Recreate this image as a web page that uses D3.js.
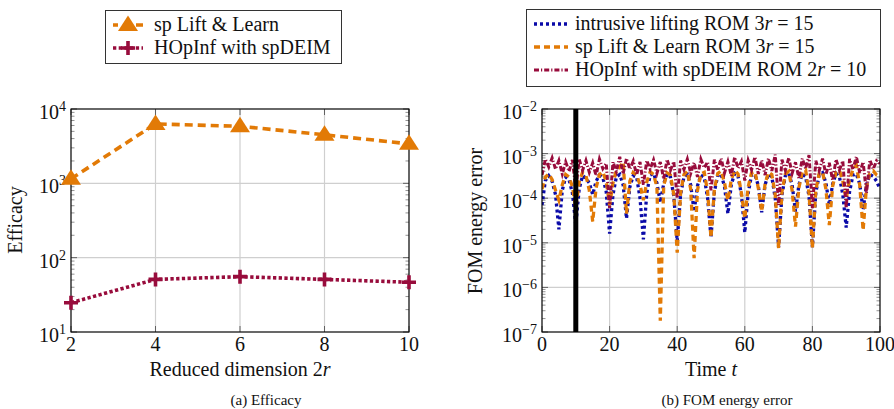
<!DOCTYPE html>
<html>
<head>
<meta charset="utf-8">
<script src="https://cdn.jsdelivr.net/npm/d3@7"></script>
<style>
  html, body { margin: 0; padding: 0; background: #fff; }
  svg { display: block; }
</style>
</head>
<body>
<svg id="fig" width="894" height="409"></svg>
<script>
// ---- (a) efficacy vs reduced dimension ----
const dims = [2, 4, 6, 8, 10];
const efficacyLiftLearn = [1150, 6300, 5850, 4500, 3400];
const efficacyHOpInf = [24.8, 51, 55.5, 51, 46.7];
const efficacyTicks = [1e1, 1e2, 1e3, 1e4];

// ---- (b) FOM energy error over time ----
const times = d3.range(0, 101, 1);
const errIntrusive = [
  7e-5, 2.5e-4, 3.2e-4, 2.4e-4, 1.2e-4, 2e-5, 1.5e-4, 3e-4, 2.6e-4, 1.3e-4,
  2.5e-5, 1.6e-4, 3.2e-4, 2.8e-4, 2.2e-4, 1.2e-4, 2.4e-4, 3.3e-4, 2.9e-4, 1.4e-4,
  1.6e-5, 1.2e-4, 3e-4, 3.4e-4, 2e-4, 3.5e-5, 1.8e-4, 3.2e-4, 3e-4, 1e-4,
  1.2e-5, 1.3e-4, 3.3e-4, 3.6e-4, 2.2e-4, 8e-5, 2.1e-4, 3.5e-4, 3e-4, 1.1e-4,
  1.1e-5, 1.2e-4, 3e-4, 3.4e-4, 2e-4, 5e-5, 1.9e-4, 3.3e-4, 2.9e-4, 1e-4,
  1.3e-5, 1.4e-4, 3.2e-4, 3.5e-4, 1.8e-4, 4.5e-5, 2e-4, 3.6e-4, 3.1e-4, 1.2e-4,
  1.7e-5, 1.3e-4, 3.3e-4, 3.4e-4, 1.9e-4, 4.8e-5, 2e-4, 3.5e-4, 3e-4, 1e-4,
  8e-6, 1.2e-4, 3.2e-4, 3.6e-4, 2e-4, 5e-5, 2e-4, 3.5e-4, 3e-4, 1.1e-4,
  8e-6, 1.3e-4, 3.3e-4, 3.7e-4, 2.2e-4, 7e-5, 2.1e-4, 3.6e-4, 3e-4, 1.2e-4,
  2.2e-5, 1.4e-4, 3.3e-4, 3.5e-4, 2.1e-4, 5.5e-5, 2e-4, 3.4e-4, 3.1e-4, 2.4e-4,
  1.6e-4
];
const errLiftLearn = [
  1.6e-4, 3e-4, 3.5e-4, 2.6e-4, 1.5e-4, 9e-5, 2e-4, 3.4e-4, 3e-4, 1.8e-4,
  6e-5, 2.3e-4, 3.8e-4, 3.2e-4, 1.5e-4, 3e-5, 1.7e-4, 3.4e-4, 3.9e-4, 2.4e-4,
  7e-5, 2.2e-4, 4.2e-4, 5e-4, 6.5e-4, 4.5e-5, 2.4e-4, 3.8e-4, 3.3e-4, 2e-4,
  9e-5, 2.3e-4, 3.9e-4, 3.4e-4, 1.8e-4, 1.8e-7, 1.9e-4, 3.7e-4, 3.3e-4, 1.2e-4,
  6e-6, 1.3e-4, 3.4e-4, 4e-4, 1.6e-4, 4.5e-6, 1.5e-4, 3.5e-4, 3.8e-4, 1.4e-4,
  1.3e-5, 1.6e-4, 3.6e-4, 4.1e-4, 2.2e-4, 9e-5, 2.6e-4, 4.2e-4, 3.5e-4, 1.3e-4,
  3.5e-5, 1.8e-4, 3.7e-4, 3.9e-4, 1.7e-4, 5e-5, 2.1e-4, 3.8e-4, 3.4e-4, 1.2e-4,
  7.5e-6, 1.4e-4, 3.5e-4, 4e-4, 1.5e-4, 2.3e-5, 1.7e-4, 3.9e-4, 4.3e-4, 1.3e-4,
  7.5e-6, 1.5e-4, 3.6e-4, 3.9e-4, 1.6e-4, 2.5e-5, 1.9e-4, 3.8e-4, 4.2e-4, 2.4e-4,
  1e-4, 2.6e-4, 4.4e-4, 5.5e-4, 2e-4, 1.9e-5, 1.8e-4, 3.6e-4, 4.1e-4, 3.3e-4,
  3e-4
];
const errHOpInf = [
  3.3e-4, 7.5e-4, 5e-4, 8e-4, 4.5e-4, 7e-4, 3.5e-4, 6.5e-4, 4e-4, 7.2e-4,
  1.6e-4, 7.5e-4, 4.2e-4, 7e-4, 3.8e-4, 6.2e-4, 3.2e-4, 7.5e-4, 4.6e-4, 6e-4,
  6e-5, 6.5e-4, 4e-4, 8.5e-4, 3.5e-4, 7.8e-4, 4.5e-4, 6.8e-4, 3.3e-4, 6.5e-4,
  2e-4, 7e-4, 4.5e-4, 7.2e-4, 3.6e-4, 6.5e-4, 2.7e-4, 7.4e-4, 4.2e-4, 6.6e-4,
  1e-4, 7e-4, 4.4e-4, 7.5e-4, 3.6e-4, 6.3e-4, 3e-4, 7.5e-4, 4.8e-4, 6.5e-4,
  1.5e-4, 7.3e-4, 4.3e-4, 7.8e-4, 3.7e-4, 6.6e-4, 3.2e-4, 8.3e-4, 4.7e-4, 6.7e-4,
  2.5e-4, 7e-4, 4.3e-4, 8.4e-4, 3.5e-4, 7.1e-4, 3.3e-4, 7.8e-4, 4.1e-4, 9.5e-4,
  7e-5, 7.3e-4, 4.2e-4, 8e-4, 3.6e-4, 6.4e-4, 2.8e-4, 7.8e-4, 4.6e-4, 9.2e-4,
  6e-5, 6.9e-4, 4.1e-4, 7.7e-4, 3.4e-4, 6.2e-4, 2.5e-4, 7.4e-4, 4.3e-4, 6.8e-4,
  6e-5, 7.6e-4, 4.4e-4, 8.6e-4, 3.7e-4, 6.5e-4, 1.3e-4, 7.2e-4, 4.5e-4, 6.9e-4,
  6e-4
];
const timeTicks = [0, 20, 40, 60, 80, 100];
const errorTicks = [1e-7, 1e-6, 1e-5, 1e-4, 1e-3, 1e-2];
const trainingEnd = 10;

const COL_ORANGE = "#e27a06";
const COL_PURPLE = "#980c3c";
const COL_BLUE = "#0a0aa8";
const FONT = 20;
const SUP = 14;
const SERIF = "'Liberation Serif', 'DejaVu Serif', serif";

const svg = d3.select("#fig")
  .attr("font-family", SERIF)
  .style("font-family", SERIF);

// Shared frame, grid and ticks for a plot with a log y-axis
function drawFrame(g, x, y, xTicks, yTicks, xFmt) {
  const [xa, xb] = x.range();
  const [yb, ya] = y.range();
  // grid
  g.selectAll(".gx").data(xTicks).join("line")
    .attr("x1", d => x(d)).attr("x2", d => x(d)).attr("y1", ya).attr("y2", yb)
    .attr("stroke", "#cfcfcf").attr("stroke-width", 1.2);
  g.selectAll(".gy").data(yTicks).join("line")
    .attr("x1", xa).attr("x2", xb).attr("y1", d => y(d)).attr("y2", d => y(d))
    .attr("stroke", "#cfcfcf").attr("stroke-width", 1.2);
  // minor ticks on the log axis (left and right sides)
  const minors = y.ticks().filter(v => {
    const m = v / Math.pow(10, Math.floor(Math.log10(v) + 1e-9));
    return Math.abs(m - 1) > 1e-6;
  });
  [[xa, 1], [xb, -1]].forEach(([x0, s]) => {
    g.append("g").selectAll("line").data(minors).join("line")
      .attr("x1", x0).attr("x2", x0 + s * 3.5)
      .attr("y1", d => y(d)).attr("y2", d => y(d))
      .attr("stroke", "#777").attr("stroke-width", 0.8);
    g.append("g").selectAll("line").data(yTicks).join("line")
      .attr("x1", x0).attr("x2", x0 + s * 6)
      .attr("y1", d => y(d)).attr("y2", d => y(d))
      .attr("stroke", "#555").attr("stroke-width", 0.9);
  });
  [[yb, -1], [ya, 1]].forEach(([y0, s]) => {
    g.append("g").selectAll("line").data(xTicks).join("line")
      .attr("x1", d => x(d)).attr("x2", d => x(d))
      .attr("y1", y0).attr("y2", y0 + s * 6)
      .attr("stroke", "#555").attr("stroke-width", 0.9);
  });
  // x tick labels
  g.selectAll(".xl").data(xTicks).join("text")
    .attr("x", d => x(d)).attr("y", yb + 18.5)
    .attr("text-anchor", "middle").attr("font-size", FONT).attr("fill", "#111")
    .text(xFmt);
  // y tick labels as powers of ten
  const yl = g.selectAll(".yl").data(yTicks).join("text")
    .attr("x", xa - 5).attr("y", d => y(d) + 10)
    .attr("text-anchor", "end").attr("font-size", FONT).attr("fill", "#111");
  yl.append("tspan").text("10");
  yl.append("tspan").attr("dy", -8).attr("font-size", SUP)
    .text(d => String(Math.round(Math.log10(d))).replace("-", "\u2212"));
}

function frameBox(g, x, y) {
  const [xa, xb] = x.range();
  const [yb, ya] = y.range();
  g.append("rect").attr("x", xa).attr("y", ya)
    .attr("width", xb - xa).attr("height", yb - ya)
    .attr("fill", "none").attr("stroke", "#000").attr("stroke-width", 1.1);
}

const triPath = "M0,-9.5L10,6L-10,6Z";
const plusPath = "M-7,0H7M0,-7V7";

// ================= (a) =================
{
  const g = svg.append("g");
  const x = d3.scaleLinear().domain([2, 10]).range([71, 409]);
  const y = d3.scaleLog().domain([10, 1e4]).range([332, 109]);
  drawFrame(g, x, y, dims, efficacyTicks, d => d);

  const line = d3.line().x((d, i) => x(dims[i])).y(d => y(d));
  g.append("path").datum(efficacyLiftLearn).attr("d", line)
    .attr("fill", "none").attr("stroke", COL_ORANGE).attr("stroke-width", 3.6)
    .attr("stroke-dasharray", "8,5");
  g.append("path").datum(efficacyHOpInf).attr("d", line)
    .attr("fill", "none").attr("stroke", COL_PURPLE).attr("stroke-width", 3.6)
    .attr("stroke-dasharray", "3.3,2.4");
  frameBox(g, x, y);
  g.selectAll(".tri").data(efficacyLiftLearn).join("path")
    .attr("transform", (d, i) => `translate(${x(dims[i])},${y(d)})`)
    .attr("d", triPath).attr("fill", COL_ORANGE);
  g.selectAll(".plus").data(efficacyHOpInf).join("path")
    .attr("transform", (d, i) => `translate(${x(dims[i])},${y(d)})`)
    .attr("d", plusPath).attr("stroke", COL_PURPLE).attr("stroke-width", 3.6)
    .attr("fill", "none");

  // axis titles
  g.append("text").attr("transform", "translate(22,220) rotate(-90)")
    .attr("text-anchor", "middle").attr("font-size", FONT).attr("fill", "#111").text("Efficacy");
  const xt = g.append("text").attr("x", 240).attr("y", 376)
    .attr("text-anchor", "middle").attr("font-size", FONT).attr("fill", "#111");
  xt.append("tspan").text("Reduced dimension 2");
  xt.append("tspan").attr("font-style", "italic").text("r");

  // legend
  const lg = g.append("g");
  lg.append("rect").attr("x", 105.5).attr("y", 10.5).attr("width", 236).attr("height", 53)
    .attr("fill", "#fff").attr("stroke", "#333").attr("stroke-width", 1);
  lg.append("line").attr("x1", 113).attr("x2", 143).attr("y1", 25).attr("y2", 25)
    .attr("stroke", COL_ORANGE).attr("stroke-width", 3.6).attr("stroke-dasharray", "8,5")
    .attr("stroke-dashoffset", 3);
  lg.append("path").attr("transform", "translate(128,25)").attr("d", triPath).attr("fill", COL_ORANGE);
  lg.append("line").attr("x1", 113).attr("x2", 143).attr("y1", 48).attr("y2", 48)
    .attr("stroke", COL_PURPLE).attr("stroke-width", 3.6).attr("stroke-dasharray", "3.3,2.4");
  lg.append("path").attr("transform", "translate(128,48)").attr("d", plusPath)
    .attr("stroke", COL_PURPLE).attr("stroke-width", 3.6);
  lg.append("text").attr("x", 154).attr("y", 31).attr("font-size", FONT).attr("fill", "#111").text("sp Lift & Learn");
  lg.append("text").attr("x", 154).attr("y", 54).attr("font-size", FONT).attr("fill", "#111").text("HOpInf with spDEIM");

  svg.append("text").attr("x", 266).attr("y", 405).attr("text-anchor", "middle")
    .attr("font-size", 15).attr("fill", "#111").text("(a) Efficacy");
}

// ================= (b) =================
{
  const g = svg.append("g");
  const x = d3.scaleLinear().domain([0, 100]).range([542, 880]);
  const y = d3.scaleLog().domain([1e-7, 1e-2]).range([332, 109]);
  drawFrame(g, x, y, timeTicks, errorTicks, d => d);

  svg.append("defs").append("clipPath").attr("id", "clipB")
    .append("rect").attr("x", 542).attr("y", 109).attr("width", 338).attr("height", 223);
  const line = d3.line().x((d, i) => x(times[i])).y(d => y(d));
  const series = [
    { vals: errIntrusive, color: COL_BLUE, w: 3.3, dash: "3,3" },
    { vals: errLiftLearn, color: COL_ORANGE, w: 3.3, dash: "6,4" },
    { vals: errHOpInf, color: COL_PURPLE, w: 3.0, dash: "5,2,1.2,2" }
  ];
  const lines = g.append("g").attr("clip-path", "url(#clipB)");
  series.forEach(s => {
    lines.append("path").datum(s.vals).attr("d", line)
      .attr("fill", "none").attr("stroke", s.color).attr("stroke-width", s.w)
      .attr("stroke-dasharray", s.dash).attr("stroke-linejoin", "miter");
  });
  // end of training window
  g.append("line").attr("x1", x(trainingEnd)).attr("x2", x(trainingEnd))
    .attr("y1", 109).attr("y2", 332).attr("stroke", "#000").attr("stroke-width", 5);
  frameBox(g, x, y);

  g.append("text").attr("transform", "translate(482,221) rotate(-90)")
    .attr("text-anchor", "middle").attr("font-size", FONT).attr("fill", "#111").text("FOM energy error");
  const xt = g.append("text").attr("x", 711).attr("y", 376)
    .attr("text-anchor", "middle").attr("font-size", FONT).attr("fill", "#111");
  xt.append("tspan").text("Time ");
  xt.append("tspan").attr("font-style", "italic").text("t");

  // legend
  const lg = g.append("g");
  lg.append("rect").attr("x", 526.5).attr("y", 9.5).attr("width", 354).attr("height", 77)
    .attr("fill", "#fff").attr("stroke", "#333").attr("stroke-width", 1);
  const rows = [
    { s: series[0], parts: ["intrusive lifting ROM 3", "r", " = 15"] },
    { s: series[1], parts: ["sp Lift & Learn ROM 3", "r", " = 15"] },
    { s: series[2], parts: ["HOpInf with spDEIM ROM 2", "r", " = 10"] }
  ];
  rows.forEach((r, i) => {
    const yy = 24 + i * 23;
    lg.append("line").attr("x1", 534).attr("x2", 568).attr("y1", yy).attr("y2", yy)
      .attr("stroke", r.s.color).attr("stroke-width", r.s.w).attr("stroke-dasharray", r.s.dash);
    const t = lg.append("text").attr("x", 575).attr("y", yy + 6).attr("font-size", FONT).attr("fill", "#111");
    t.append("tspan").text(r.parts[0]);
    t.append("tspan").attr("font-style", "italic").text(r.parts[1]);
    t.append("tspan").text(r.parts[2]);
  });

  svg.append("text").attr("x", 727).attr("y", 405).attr("text-anchor", "middle")
    .attr("font-size", 15).attr("fill", "#111").text("(b) FOM energy error");
}
</script>
</body>
</html>
